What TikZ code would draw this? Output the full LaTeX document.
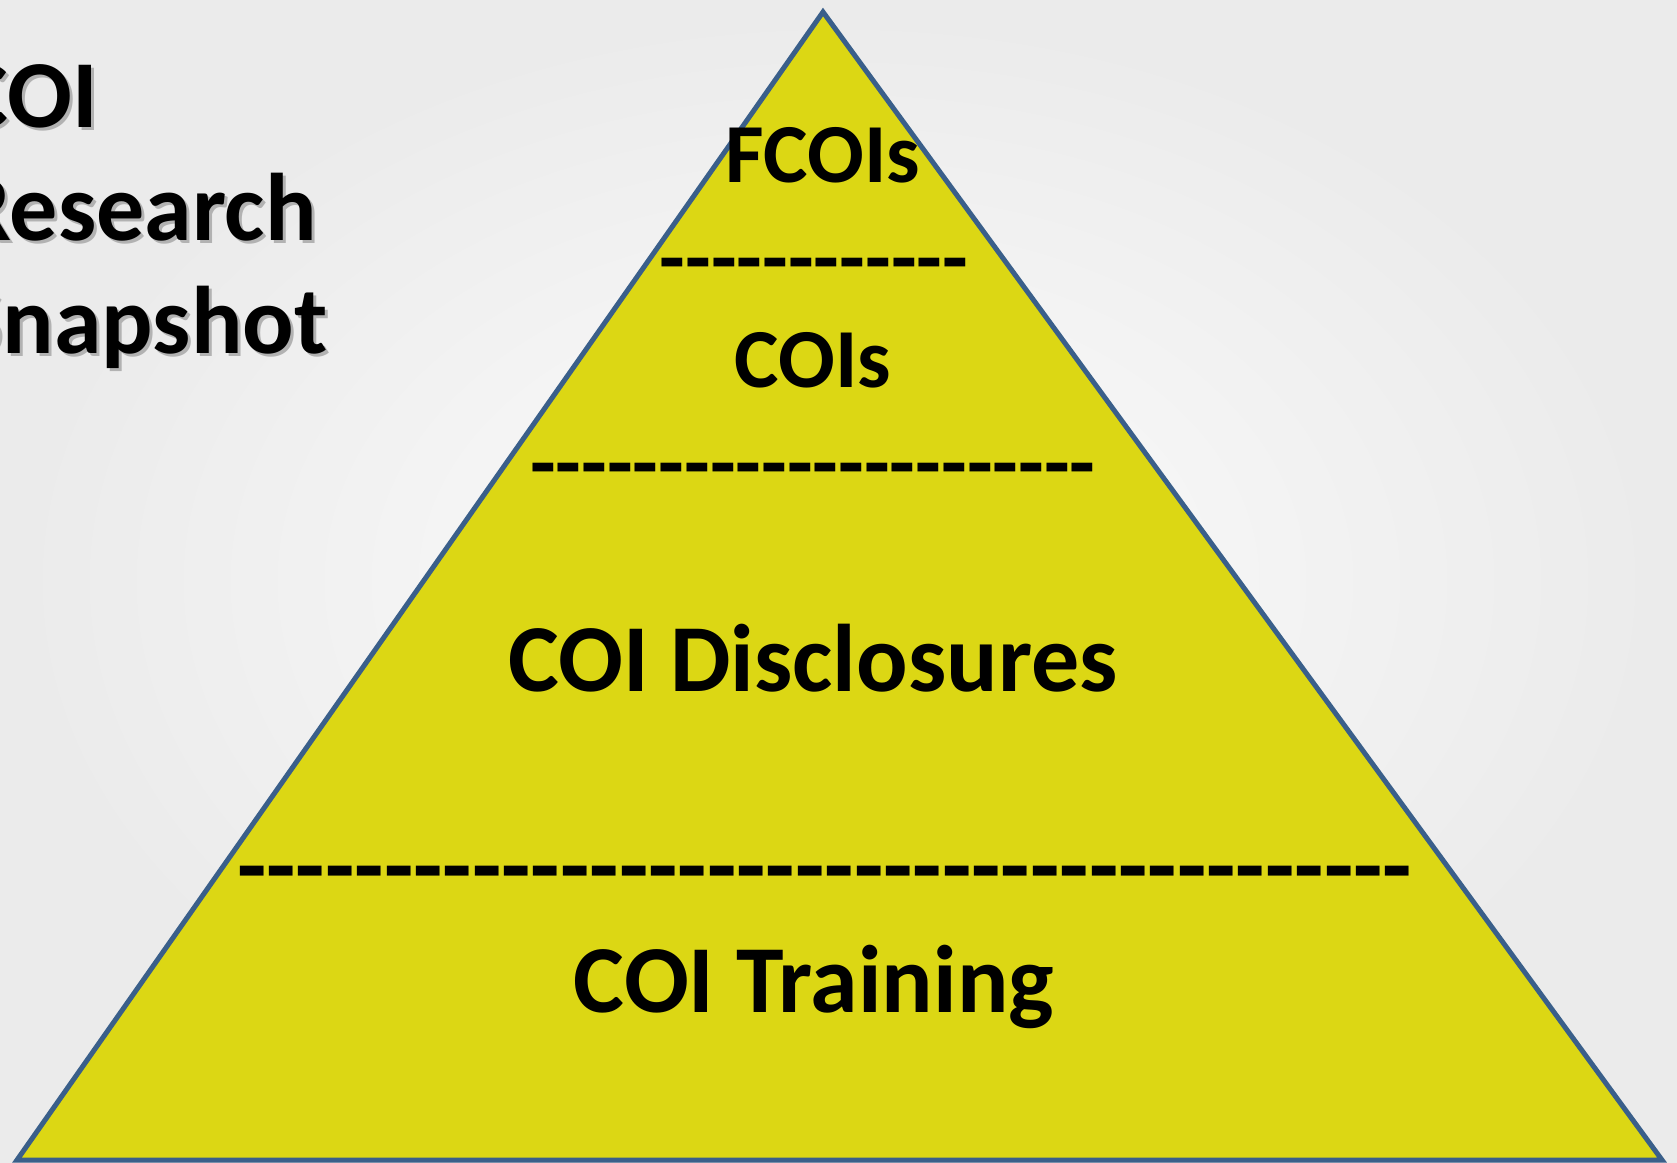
\documentclass[tikz,border=0pt]{standalone}
\usepackage{fontspec}
\setmainfont{Carlito}
\definecolor{pyramidfill}{HTML}{DCD714}
\definecolor{pyramidedge}{HTML}{3A5F8A}
\tikzset{
  tier/.style = {font=\bfseries\fontsize{#1}{#1}\selectfont,
                 inner sep=0pt, outer sep=0pt, anchor=base},
  tier/.default = 84,
  headline/.style = {font=\bfseries\fontsize{96}{96}\selectfont,
                     inner sep=0pt, anchor=base west}
}
% a row of hyphens, one box each so they never join
\newcommand\dashrow[1]{\foreach \k in {1,...,#1}{\hbox{-}}}

\begin{document}
\begin{tikzpicture}[x=1pt,y=-1pt]
	\def \W{1677}
	\def \H{1162}

	\useasboundingbox (0,0) rectangle (\W,\H);
	\clip (0,0) rectangle (\W,\H);

	% Background
	\shade[inner color=black!1, outer color=black!8] (0,0) rectangle (\W,\H);

	% Title (cut by the left edge)
	\foreach \word/\base [count=\n] in {COI/127, Research/240, Snapshot/353} {
		\node[headline, text=black!30] (shadow\n) at (-40,\base+3) {\word};
		\node[headline] (head\n) at (-43,\base) {\word};
	}

	% Pyramid
	\coordinate (apex)  at (823,12);
	\coordinate (left)  at (17,1160);
	\coordinate (right) at (1662,1160);
	\filldraw[fill=pyramidfill, draw=pyramidedge, line width=5] (apex) -- (left) -- (right) -- cycle;

	% Tiers
	\node[tier] (fcois) at (823,182) {FCOIs};
	\node[tier] (rule1) at (814,286) {\dashrow{12}};
	\node[tier] (cois)  at (813,387) {COIs};
	\node[tier] (rule2) at (813,491) {\dashrow{22}};
	\node[tier=96] (disclosures) at (813,691) {COI Disclosures};
	\node[tier=96] (rule3) at (825,898) {\dashrow{40}};
	\node[tier=96] (training) at (814,1012) {COI Training};

\end{tikzpicture}
\end{document}
